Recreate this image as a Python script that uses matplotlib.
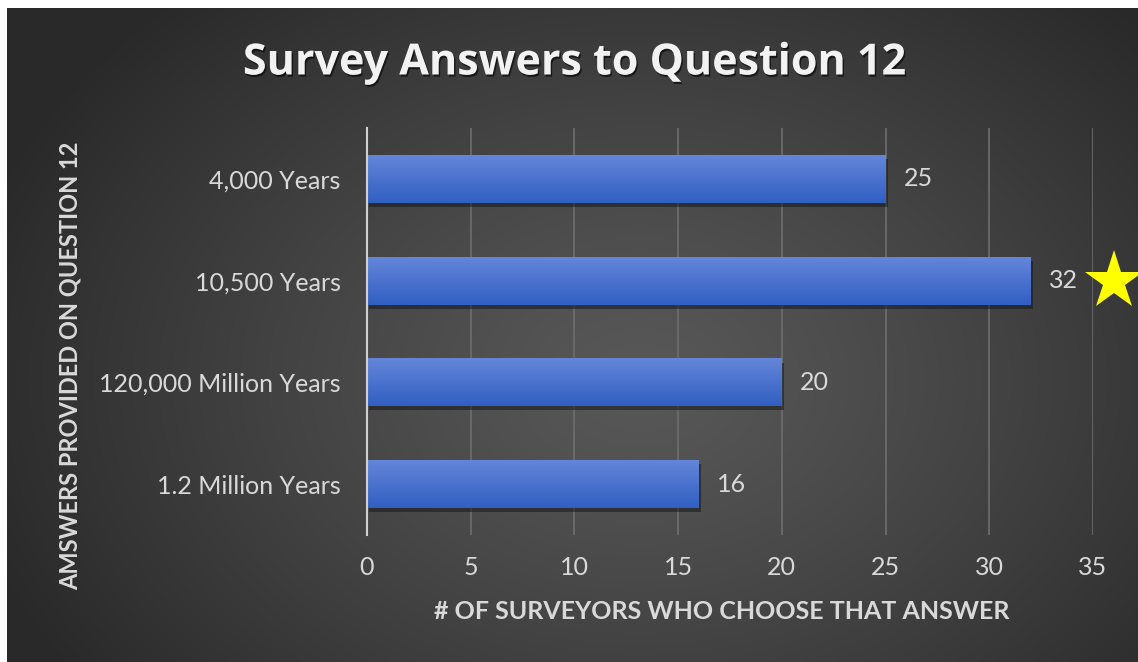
import numpy as np
import matplotlib
matplotlib.use("Agg")
from matplotlib import pyplot as plt
from matplotlib import patheffects as pe

# survey results
answers = ['4,000 Years', '10,500 Years', '120,000 Million Years', '1.2 Million Years']
counts = [25, 32, 20, 16]
starred = '10,500 Years'
x_ticks = [0, 5, 10, 15, 20, 25, 30, 35]

plt.rcParams['font.family'] = ['Lato', 'DejaVu Sans']

W, H = 1138, 662
fig = plt.figure(figsize=(W / 100, H / 100), dpi=100)
fig.patch.set_facecolor('white')

# dark radial backdrop (panel sits inside a thin white margin)
bg = fig.add_axes([0, 0, 1, 1])
bg.set_xlim(0, W)
bg.set_ylim(H, 0)
bg.axis('off')
gx, gy = np.meshgrid(np.linspace(7, W, 400), np.linspace(8, H, 240))
r = np.sqrt(((gx - 640) / 700) ** 2 + ((gy - 380) / 520) ** 2)
r = np.clip(r, 0, 1)
shade = (0x58 + (0x29 - 0x58) * r ** 1.2) / 255.0
bg.imshow(np.dstack([shade, shade, shade]), extent=(7, W, H, 8),
          aspect='auto', interpolation='bilinear', zorder=0)

ax = fig.add_axes([367 / W, 127 / H, (1093 - 367) / W, (534 - 127) / H])
ax.set_facecolor('none')

ypos = np.arange(len(answers))[::-1]
bar_h = 0.47

# bar bodies with a soft drop shadow underneath
bars = ax.barh(ypos, counts, height=bar_h, color='#4470cc', zorder=3)
for b in bars:
    b.set_path_effects([pe.SimplePatchShadow(offset=(1.5, -3), shadow_rgbFace='#15181c', alpha=0.55),
                        pe.Normal()])

# vertical blue gradient over each bar, lighter on top
top_c = np.array([0x64, 0x86, 0xda]) / 255.0
bot_c = np.array([0x31, 0x5f, 0xc2]) / 255.0
t = np.linspace(0, 1, 64)[:, None]
grad = (bot_c[None, :] * (1 - t) + top_c[None, :] * t)[:, None, :]
for y, v in zip(ypos, counts):
    ax.imshow(grad, extent=(0, v, y - bar_h / 2, y + bar_h / 2), origin='lower',
              aspect='auto', interpolation='bilinear', zorder=4)

ax.set_xlim(0, 35)
ax.set_ylim(-0.5, 3.5)
ax.set_aspect('auto')

for y, v in zip(ypos, counts):
    ax.annotate(str(v), (v, y), xytext=(13, 0), textcoords='offset points',
                ha='left', va='center', color='#d9d9d9', fontsize=18, zorder=5)

# star next to the winning answer
sy = ypos[answers.index(starred)]
ax.plot([36], [sy], marker='*', markersize=44, color='#ffff00',
        markeredgewidth=0, clip_on=False, zorder=6)

ax.set_xticks(x_ticks)
ax.set_yticks(ypos)
ax.set_yticklabels(answers)
ax.tick_params(axis='both', length=0, colors='#d9d9d9', labelsize=18)
ax.tick_params(axis='y', pad=19)
ax.tick_params(axis='x', pad=15)
ax.xaxis.grid(True, color='#6e6e6e', linewidth=1.2, zorder=1)
ax.set_axisbelow(True)
for s in ['top', 'right', 'bottom']:
    ax.spines[s].set_visible(False)
ax.spines['left'].set_color('#d0d0d0')
ax.spines['left'].set_linewidth(1.5)
ax.spines['left'].set_zorder(5)

ax.set_xlabel('# OF SURVEYORS WHO CHOOSE THAT ANSWER', color='#d9d9d9',
              fontsize=18, fontweight='bold', labelpad=12)
ax.xaxis.set_label_coords(0.489, -0.16)
fig.text(70 / W, 1 - 366 / H, 'AMSWERS PROVIDED ON QUESTION 12', rotation=90,
         ha='center', va='center', color='#d9d9d9', fontsize=17, fontweight='bold')

fig.text(574 / W, 1 - 63 / H, 'Survey Answers to Question 12', ha='center', va='center',
         color='#f2f2f2', fontsize=31, fontweight='bold', family=['Open Sans', 'DejaVu Sans'],
         path_effects=[pe.withSimplePatchShadow(offset=(1, -1.5), shadow_rgbFace='black', alpha=0.6)])

fig.savefig('out.png', dpi=100, facecolor=fig.get_facecolor())
